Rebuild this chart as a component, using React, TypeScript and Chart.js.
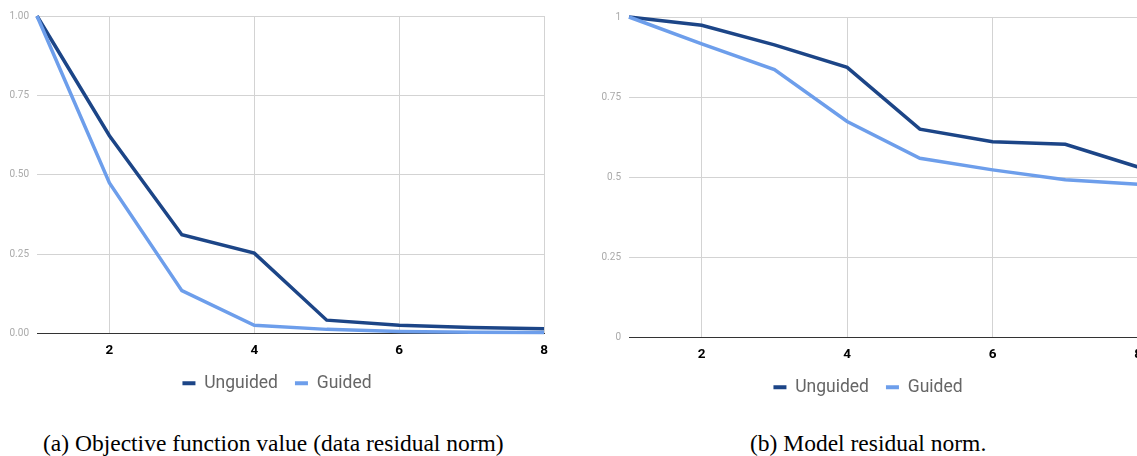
import React, { useEffect, useRef } from "react";
import { Chart, registerables } from "chart.js";

Chart.register(...registerables);

// ---- data ----
const iterations = [1, 2, 3, 4, 5, 6, 7, 8];
const xTicks = [2, 4, 6, 8];
const yTicks = [0, 0.25, 0.5, 0.75, 1];
const seriesNames = ["Unguided", "Guided"];
const unguidedObjective = [1.0, 0.623, 0.311, 0.253, 0.042, 0.026, 0.019, 0.015];
const guidedObjective = [1.0, 0.474, 0.135, 0.026, 0.013, 0.006, 0.004, 0.003];
const unguidedModel = [1.0, 0.974, 0.913, 0.843, 0.65, 0.611, 0.603, 0.532];
const guidedModel = [1.0, 0.916, 0.836, 0.674, 0.559, 0.523, 0.492, 0.478];
const captionA = "(a) Objective function value (data residual norm)";
const captionB = "(b) Model residual norm.";

const DARK = "#1c4587";
const LIGHT = "#6d9eeb";
const GRID = "#d3d3d3";

type PanelProps = {
  unguided: number[];
  guided: number[];
  decimals: number | null;
  left: number;
  width: number;
  height: number;
  padL: number;
  padR: number;
  padT: number;
  axisW: number;
};

function ChartPanel(p: PanelProps) {
  const ref = useRef<HTMLCanvasElement | null>(null);
  useEffect(() => {
    if (!ref.current) return;
    const mk = (vals: number[]) => iterations.map((x, i) => ({ x, y: vals[i] }));
    const chart = new Chart(ref.current, {
      type: "line",
      data: {
        datasets: [
          {
            label: seriesNames[0],
            data: mk(p.unguided),
            borderColor: DARK,
            backgroundColor: DARK,
            borderWidth: 3.5,
            pointRadius: 0,
            tension: 0,
            clip: false as any,
            order: 1,
          },
          {
            label: seriesNames[1],
            data: mk(p.guided),
            borderColor: LIGHT,
            backgroundColor: LIGHT,
            borderWidth: 3.5,
            pointRadius: 0,
            tension: 0,
            clip: false as any,
            order: 0,
          },
        ],
      },
      options: {
        responsive: false,
        animation: false,
        devicePixelRatio: 1,
        layout: { padding: { left: p.padL, right: p.padR, top: p.padT, bottom: 0 } },
        plugins: {
          tooltip: { enabled: false },
          legend: {
            position: "bottom",
            labels: {
              boxWidth: 13,
              boxHeight: 4,
              padding: 17,
              color: "#666",
              font: { family: "Roboto", size: 17.5 },
              sort: (a: any, b: any) => a.datasetIndex - b.datasetIndex,
              generateLabels: (chart: any) =>
                Chart.defaults.plugins.legend.labels
                  .generateLabels(chart)
                  .map((l: any) => ({ ...l, lineWidth: 0 })),
            },
          },
        },
        scales: {
          x: {
            type: "linear",
            min: 1,
            max: 8,
            afterBuildTicks: (s: any) => {
              s.ticks = xTicks.map((v) => ({ value: v }));
            },
            afterFit: (s: any) => {
              s.paddingLeft = 0;
              s.paddingRight = 0;
              s.height = 24;
            },
            grid: { color: GRID, drawTicks: false, lineWidth: 1 },
            border: { display: true, color: "#333", width: 1 },
            ticks: {
              padding: 9,
              autoSkip: false,
              maxRotation: 0,
              color: "#000",
              font: { family: "Roboto", size: 13.5, weight: "bold" },
            },
          },
          y: {
            type: "linear",
            min: 0,
            max: 1,
            afterBuildTicks: (s: any) => {
              s.ticks = yTicks.map((v) => ({ value: v }));
            },
            afterFit: (s: any) => {
              s.width = p.axisW;
            },
            grid: {
              color: (c: any) => (c.tick && c.tick.value === 0 ? "#333" : GRID),
              drawTicks: false,
              lineWidth: 1,
            },
            border: { display: false },
            ticks: {
              padding: 8,
              color: "#aaa",
              font: { family: "Roboto", size: 10 },
              callback: (v: any) =>
                p.decimals === null ? String(Number(v)) : Number(v).toFixed(p.decimals),
            },
          },
        },
      } as any,
    });
    return () => chart.destroy();
  }, []);
  return (
    <canvas
      ref={ref}
      width={p.width}
      height={p.height}
      style={{ position: "absolute", left: p.left, top: 0, width: p.width, height: p.height }}
    />
  );
}

const captionStyle: React.CSSProperties = {
  position: "absolute",
  top: 431,
  fontFamily: '"Liberation Serif", "Times New Roman", serif',
  fontSize: 23.5,
  lineHeight: "24px",
  color: "#000",
  whiteSpace: "nowrap",
};

export default function App() {
  return (
    <div
      style={{
        position: "fixed",
        left: 0,
        top: 0,
        width: 1137,
        height: 456,
        overflow: "hidden",
        background: "#fff",
      }}
    >
      <ChartPanel
        unguided={unguidedObjective}
        guided={guidedObjective}
        decimals={2}
        left={0}
        width={548}
        height={402}
        padL={10}
        padR={4}
        padT={16}
        axisW={27}
      />
      <ChartPanel
        unguided={unguidedModel}
        guided={guidedModel}
        decimals={null}
        left={588}
        width={554}
        height={406}
        padL={10}
        padR={4}
        padT={17}
        axisW={31}
      />
      <div style={{ ...captionStyle, left: 43 }}>{captionA}</div>
      <div style={{ ...captionStyle, left: 750 }}>{captionB}</div>
    </div>
  );
}
